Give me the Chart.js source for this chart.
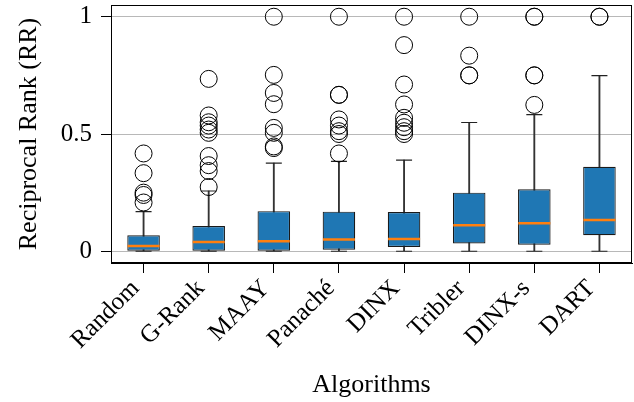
<!DOCTYPE html>
<html>
<head>
<meta charset="utf-8">
<script src="https://cdn.jsdelivr.net/npm/chart.js@4.4.1/dist/chart.umd.min.js"></script>
<style>
  html, body { margin: 0; padding: 0; background: #fff; }
  #wrap { width: 634px; height: 402px; }
</style>
</head>
<body>
<div id="wrap"><canvas id="chart" width="634" height="402"></canvas></div>
<script>
// box plot values
const categories = ["Random", "G-Rank", "MAAY", "Panaché", "DINX", "Tribler", "DINX-s", "DART"];
const whiskerLow = [0, 0, 0, 0, 0, 0, 0, 0];
const q1 = [0, 0, 0, 0.007, 0.018, 0.033, 0.028, 0.068];
const median = [0.023, 0.040, 0.043, 0.050, 0.052, 0.111, 0.119, 0.133];
const q3 = [0.068, 0.108, 0.171, 0.169, 0.167, 0.250, 0.264, 0.360];
const whiskerHigh = [0.169, 0.257, 0.376, 0.383, 0.389, 0.549, 0.583, 0.749];
const outliers = [
  [0.417, 0.333, 0.25, 0.24, 0.208],
  [0.735, 0.579, 0.55, 0.536, 0.519, 0.505, 0.406, 0.367, 0.342, 0.274],
  [1, 0.752, 0.675, 0.627, 0.526, 0.505, 0.447, 0.44],
  [1, 0.667, 0.667, 0.562, 0.536, 0.512, 0.5, 0.417],
  [1, 0.879, 0.711, 0.626, 0.569, 0.548, 0.529, 0.512, 0.5],
  [1, 0.834, 0.75, 0.75],
  [1, 1, 0.75, 0.75, 0.624],
  [1, 1]
];
const yTicks = [0, 0.5, 1];

Chart.defaults.font.family = "'Liberation Serif', 'DejaVu Serif', serif";
Chart.defaults.color = "#000";

// black frame round the plot area
const frame = {
  id: "frame",
  afterDatasetsDraw(chart) {
    const a = chart.chartArea;
    const ctx = chart.ctx;
    ctx.save();
    ctx.strokeStyle = "#000";
    ctx.lineWidth = 1;
    ctx.strokeRect(Math.round(a.left) + 0.5, Math.round(a.top) + 0.5,
      Math.round(a.right - a.left) - 1, Math.round(a.bottom - a.top) - 1);
    ctx.restore();
  }
};

const pts = (arr) => categories.map((c, i) => ({ x: c, y: arr[i] }));

const data = {
  labels: categories,
  datasets: [
    {
      // outliers
      type: "line",
      data: categories.flatMap((c, i) => outliers[i].map(v => ({ x: c, y: v }))),
      showLine: false,
      pointStyle: "circle",
      pointRadius: 8.5,
      pointBorderColor: "#000",
      pointBackgroundColor: "rgba(0,0,0,0)",
      pointBorderWidth: 1,
      order: 0
    },
    {
      // medians
      type: "line",
      data: pts(median),
      showLine: false,
      pointStyle: "line",
      pointRadius: 16,
      pointBorderColor: "#ff7f0e",
      pointBorderWidth: 2.5,
      order: 1
    },
    {
      // whisker caps
      type: "line",
      data: pts(whiskerHigh).concat(pts(whiskerLow)),
      showLine: false,
      pointStyle: "line",
      pointRadius: 8,
      pointBorderColor: "#222",
      pointBorderWidth: 1.2,
      order: 2
    },
    {
      // boxes
      type: "bar",
      data: categories.map((c, i) => [q1[i], q3[i]]),
      backgroundColor: "#1f77b4",
      borderColor: "#1a1a1a",
      borderWidth: 1.2,
      borderSkipped: false,
      barPercentage: 0.5,
      categoryPercentage: 1.0,
      grouped: false,
      order: 3
    },
    {
      // whisker lines
      type: "bar",
      data: categories.map((c, i) => [whiskerLow[i], whiskerHigh[i]]),
      backgroundColor: "#333",
      borderWidth: 0,
      barThickness: 1.2,
      grouped: false,
      order: 4
    }
  ]
};

const options = {
  responsive: false,
  animation: false,
  layout: { autoPadding: false, padding: { top: 5, right: 2, left: 0, bottom: 0 } },
  plugins: { legend: { display: false }, tooltip: { enabled: false } },
  scales: {
    x: {
      type: "category",
      offset: true,
      grid: { drawOnChartArea: false, drawTicks: true, tickLength: 10, tickColor: "#000", offset: false },
      border: { display: true, color: "#000" },
      ticks: { font: { size: 25 }, minRotation: 45, maxRotation: 45, autoSkip: false, padding: 1, labelOffset: -8 },
      title: { display: true, text: "Algorithms", font: { size: 26 }, padding: { top: 0, bottom: 1 } },
      afterFit(scale) {
        scale.height = 139;
        scale.paddingLeft = 0;
        scale.paddingRight = 0;
      }
    },
    y: {
      min: -0.05,
      max: 1.05,
      afterBuildTicks(scale) { scale.ticks = yTicks.map(v => ({ value: v })); },
      grid: { color: "#b8b8b8", tickColor: "#000", tickLength: 10, lineWidth: 1 },
      border: { display: true, color: "#000" },
      ticks: { font: { size: 25 }, padding: 9, callback: (v) => String(v) },
      title: { display: true, text: "Reciprocal Rank (RR)", font: { size: 26 }, padding: { top: 14 } },
      afterFit(scale) {
        scale.width = 111;
        scale.paddingTop = 0;
        scale.paddingBottom = 0;
      }
    }
  }
};

const chart = new Chart(document.getElementById("chart").getContext("2d"), {
  type: "bar",
  data: data,
  options: options,
  plugins: [frame]
});
</script>
</body>
</html>
